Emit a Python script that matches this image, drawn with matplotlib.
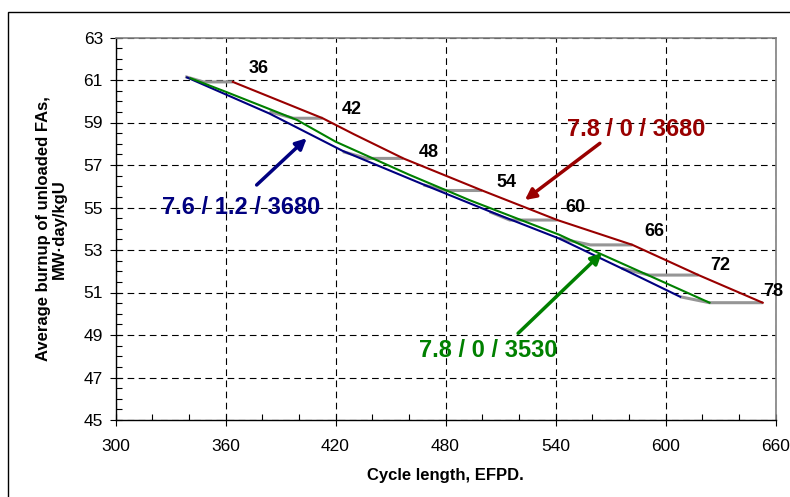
import numpy as np
import matplotlib
matplotlib.use("Agg")
import matplotlib.pyplot as plt
from matplotlib.patches import Rectangle
from matplotlib.ticker import MultipleLocator

plt.rcParams['font.family'] = ['Liberation Sans', 'DejaVu Sans']

# number of unloaded FAs at each step
fa_counts = [36, 42, 48, 54, 60, 66, 72, 78]

# 7.6 / 1.2 / 3680
cycle_blue = [339, 384, 424, 468, 504, 542, 576, 608]
burnup_blue = [61.12, 59.42, 57.66, 56.08, 54.82, 53.54, 52.14, 50.80]

# 7.8 / 0 / 3530
cycle_green = [341, 360, 399, 420, 460, 493, 532, 542, 564, 624]
burnup_green = [61.08, 60.45, 59.12, 58.10, 56.55, 55.35, 54.05, 53.72, 52.84, 50.52]

# 7.8 / 0 / 3680
cycle_red = [364, 413, 430, 457, 500, 541, 582, 618, 653]
burnup_red = [60.91, 59.20, 58.45, 57.31, 55.80, 54.41, 53.24, 51.82, 50.52]

# gray steps: start on the lower curves, corner, then flat to the 3680 curve
step_start_cycle = [338, 384, 424, 468, 504, 542, 576, 608]
step_start_burnup = [61.16, 59.51, 57.63, 56.06, 54.80, 53.55, 52.14, 50.80]
step_corner_cycle = [348, 397, 437, 480, 515, 559, 591, 624]
step_end_cycle = [364, 413, 457, 500, 541, 582, 618, 653]
step_burnup = [60.91, 59.20, 57.31, 55.80, 54.41, 53.24, 51.82, 50.52]

# where the FA count labels sit
label_x = [378, 429, 471, 513, 551, 594, 630, 659]
label_y = [61.56, 59.59, 57.61, 56.18, 55.0, 53.87, 52.27, 51.07]

c_blue = '#000080'
c_green = '#008000'
c_red = '#990000'
c_gray = '#969696'

fig = plt.figure(figsize=(7.9, 4.97), dpi=100)
fig.patch.set_facecolor('white')
fig.add_artist(Rectangle((8 / 790, -0.1), 1.2, 1.1 - 12 / 497, transform=fig.transFigure,
                         fill=False, edgecolor='black', lw=1.0, clip_on=False))

ax = fig.add_axes([115.5 / 790, 77 / 497, 660 / 790, 382.5 / 497])

for i in range(len(fa_counts)):
    ax.plot([step_start_cycle[i], step_corner_cycle[i], step_end_cycle[i]],
            [step_start_burnup[i], step_burnup[i], step_burnup[i]],
            color=c_gray, lw=2.2, solid_capstyle='butt', zorder=3)

ax.plot(cycle_blue, burnup_blue, color=c_blue, lw=1.5, zorder=4)
ax.plot(cycle_green, burnup_green, color=c_green, lw=1.5, zorder=4)
ax.plot(cycle_red, burnup_red, color=c_red, lw=1.5, zorder=4)

for n, x, y in zip(fa_counts, label_x, label_y):
    ax.text(x, y, str(n), fontsize=13, fontweight='bold', ha='center', va='center', zorder=6)

arrow = dict(arrowstyle='-|>', lw=2.5, mutation_scale=16, shrinkA=0, shrinkB=0)
ax.annotate('', xy=(404.3, 58.26), xytext=(377, 56.06), arrowprops=dict(arrow, color=c_blue), zorder=6)
ax.annotate('', xy=(523.3, 55.35), xytext=(564.2, 58.02), arrowprops=dict(arrow, color=c_red), zorder=6)
ax.annotate('', xy=(565.3, 52.86), xytext=(519.6, 49.08), arrowprops=dict(arrow, color=c_green), zorder=6)

ax.text(368.4, 54.98, '7.6 / 1.2 / 3680', color=c_blue, fontsize=17, fontweight='bold',
        ha='center', va='center', zorder=6)
ax.text(583.8, 58.65, '7.8 / 0 / 3680', color=c_red, fontsize=17, fontweight='bold',
        ha='center', va='center', zorder=6)
ax.text(503.1, 48.29, '7.8 / 0 / 3530', color=c_green, fontsize=17, fontweight='bold',
        ha='center', va='center', zorder=6)

ax.set_xlim(300, 660)
ax.set_ylim(45, 63)
ax.xaxis.set_major_locator(MultipleLocator(60))
ax.xaxis.set_minor_locator(MultipleLocator(20))
ax.yaxis.set_minor_locator(MultipleLocator(0.5))
ax.set_yticks(np.arange(45, 64, 2))

ax.grid(True, which='major', color='black', lw=0.8, linestyle=(0, (6, 4)))
ax.set_axisbelow(True)

for side in ['left', 'bottom']:
    ax.spines[side].set_color('black')
    ax.spines[side].set_linewidth(1.0)
for side in ['top', 'right']:
    ax.spines[side].set_color('#808080')
    ax.spines[side].set_linewidth(1.2)

ax.tick_params(which='major', direction='inout', length=8, width=0.8, labelsize=12.5)
ax.tick_params(which='minor', direction='in', length=4, width=0.8)
ax.tick_params(axis='y', which='major', pad=5)
ax.tick_params(axis='x', which='major', pad=10)

ax.set_xlabel('Cycle length, EFPD.', fontsize=12, fontweight='bold', labelpad=10)
ax.set_ylabel('Average burnup of unloaded FAs,\nMW·day/kgU', fontsize=12, fontweight='bold',
              labelpad=12, linespacing=1.1)

fig.savefig('out.png', dpi=100)
